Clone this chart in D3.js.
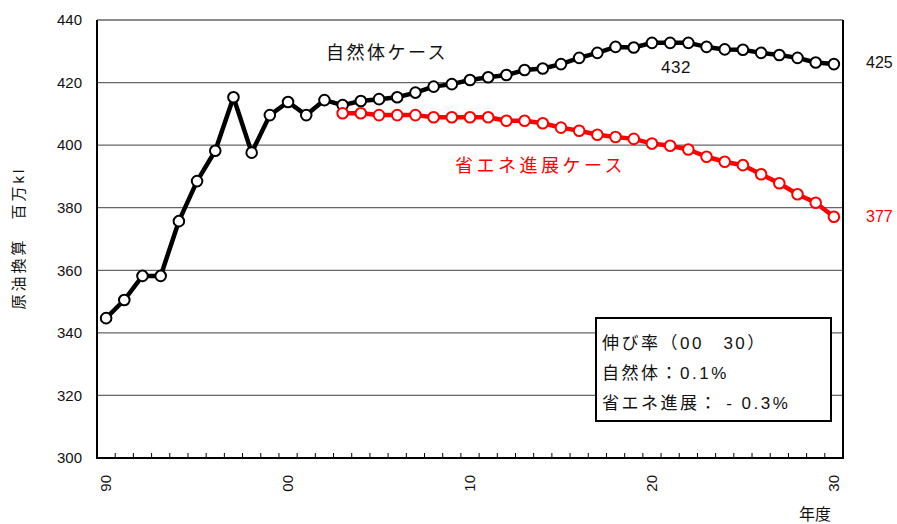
<!DOCTYPE html>
<html><head><meta charset="utf-8">
<script src="https://cdnjs.cloudflare.com/ajax/libs/d3/7.8.5/d3.min.js"></script>
<style>
body{margin:0;background:#fff;}
text{font-family:"Liberation Sans","Noto Sans CJK JP",sans-serif;}
</style></head>
<body><svg id="c" width="897" height="524"></svg>
<script>
const years = [1990,1991,1992,1993,1994,1995,1996,1997,1998,1999,2000,2001,2002,2003,2004,2005,2006,2007,2008,2009,2010,2011,2012,2013,2014,2015,2016,2017,2018,2019,2020,2021,2022,2023,2024,2025,2026,2027,2028,2029,2030];
const naturalCase = [344.7,350.5,358.2,358.2,375.7,388.5,398.2,415.3,397.6,409.6,413.8,409.6,414.4,412.8,414.1,414.7,415.3,416.8,418.7,419.5,420.8,421.7,422.4,424.0,424.5,425.9,427.9,429.5,431.4,431.2,432.7,432.7,432.7,431.4,430.6,430.5,429.5,428.8,427.9,426.4,425.9];
const savingYears = [2003,2004,2005,2006,2007,2008,2009,2010,2011,2012,2013,2014,2015,2016,2017,2018,2019,2020,2021,2022,2023,2024,2025,2026,2027,2028,2029,2030];
const savingCase = [410.2,410.2,409.6,409.6,409.6,408.9,408.9,408.9,408.9,407.8,407.8,407.0,405.6,404.6,403.3,402.6,402.0,400.5,399.8,398.6,396.3,394.7,393.6,390.7,387.8,384.3,381.6,377.1];
const yTicks = [300,320,340,360,380,400,420,440];
const xLabelYears = [1990,2000,2010,2020,2030];
const xLabels = ["90","00","10","20","30"];

const svg = d3.select("#c");
const L=97,R=843,T=20,B=458;
const x = d3.scaleBand().domain(years).range([L,R]);
const cx = d => x(d)+x.bandwidth()/2;
const y = d3.scaleLinear().domain([300,440]).range([B,T]);

// gridlines
svg.append("g").selectAll("line").data(yTicks.filter(v=>v>300)).join("line")
  .attr("x1",L).attr("x2",R).attr("y1",d=>y(d)).attr("y2",d=>y(d))
  .attr("stroke","#666").attr("stroke-width",1.3);

// y axis
const ya = svg.append("g").attr("transform",`translate(${L},0)`)
  .call(d3.axisLeft(y).tickValues(yTicks).tickSize(0).tickPadding(15).tickFormat(d3.format("d")));
ya.select(".domain").remove();
ya.selectAll("text").attr("font-size",15).attr("fill","#111").attr("font-family","Liberation Sans, sans-serif");

// x ticks (inside) at band boundaries
const bounds = years.slice(1);
svg.append("g").selectAll("line").data(bounds).join("line")
  .attr("x1",d=>x(d)).attr("x2",d=>x(d)).attr("y1",B).attr("y2",B-5)
  .attr("stroke","#000").attr("stroke-width",1);

// x labels
svg.append("g").selectAll("text").data(xLabelYears).join("text")
  .attr("transform",(d)=>`translate(${cx(d)+5},${475}) rotate(-90)`)
  .attr("text-anchor","end").attr("font-size",15).attr("fill","#111")
  .text((d,i)=>xLabels[i]);

// axes lines
svg.append("line").attr("x1",L).attr("x2",L).attr("y1",T).attr("y2",B+1).attr("stroke","#000").attr("stroke-width",2);
svg.append("line").attr("x1",L-1).attr("x2",R+1).attr("y1",B).attr("y2",B).attr("stroke","#000").attr("stroke-width",2);
svg.append("line").attr("x1",R).attr("x2",R).attr("y1",T).attr("y2",B+1).attr("stroke","#000").attr("stroke-width",2);

// series
const line = d3.line().x(d=>cx(d[0])).y(d=>y(d[1]));
function series(xs, vs, color){
  const pts = xs.map((d,i)=>[d,vs[i]]);
  svg.append("path").datum(pts).attr("d",line).attr("fill","none")
    .attr("stroke",color).attr("stroke-width",4.5).attr("stroke-linejoin","round");
  svg.append("g").selectAll("circle").data(pts).join("circle")
    .attr("cx",d=>cx(d[0])).attr("cy",d=>y(d[1])).attr("r",5.3)
    .attr("fill","#fff").attr("stroke",color).attr("stroke-width",2);
}
series(years, naturalCase, "#000");
series(savingYears, savingCase, "#ff0000");

// annotations
svg.append("text").attr("x",326).attr("y",59).attr("font-size",18).attr("letter-spacing",2.5)
  .attr("font-family","Noto Sans CJK JP").attr("fill","#111").text("自然体ケース");
svg.append("text").attr("x",455).attr("y",172).attr("font-size",18).attr("letter-spacing",3.5)
  .attr("font-family","Noto Sans CJK JP").attr("fill","#ff0000").text("省エネ進展ケース");
svg.append("text").attr("x",676).attr("y",73).attr("text-anchor","middle").attr("font-size",17).attr("letter-spacing",0.5)
  .attr("fill","#111").text("432");
svg.append("text").attr("x",866).attr("y",68).attr("font-size",16).attr("fill","#111").text("425");
svg.append("text").attr("x",866).attr("y",222).attr("font-size",16).attr("fill","#ff0000").text("377");

// axis titles
svg.append("text").attr("transform","translate(24,238) rotate(-90)").attr("text-anchor","middle")
  .attr("font-size",15).attr("letter-spacing",3).attr("font-family","Noto Sans CJK JP").attr("fill","#111").text("原油換算　百万kl");
svg.append("text").attr("x",815).attr("y",520).attr("text-anchor","middle")
  .attr("font-size",16).attr("font-family","Noto Sans CJK JP").attr("fill","#111").text("年度");

// growth box
svg.append("rect").attr("x",596).attr("y",318).attr("width",235).attr("height",103)
  .attr("fill","#fff").attr("stroke","#000").attr("stroke-width",2);
const boxLines = ["伸び率（00　30）","自然体：0.1%","省エネ進展： - 0.3%"];
svg.append("g").selectAll("text").data(boxLines).join("text")
  .attr("x",602).attr("y",(d,i)=>349+i*30).attr("font-size",17).attr("letter-spacing",2.5)
  .attr("font-family","Noto Sans CJK JP").attr("fill","#111").text(d=>d);
</script></body></html>
